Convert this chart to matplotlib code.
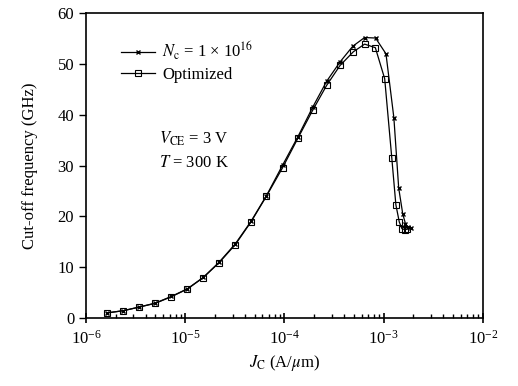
import matplotlib
matplotlib.use("Agg")
import matplotlib.pyplot as plt
from matplotlib.ticker import LogLocator, FixedLocator, NullFormatter

plt.rcParams['font.family'] = ['Liberation Serif', 'DejaVu Serif']
plt.rcParams['mathtext.fontset'] = 'stix'

# ------------------------------------------------------------------------------
# data

jc_nc = [1.61e-6, 2.38e-6, 3.45e-6, 5.0e-6, 7.25e-6, 1.05e-5, 1.52e-5, 2.2e-5,
         3.2e-5, 4.6e-5, 6.6e-5, 9.6e-5, 1.37e-4, 1.93e-4, 2.67e-4, 3.64e-4,
         4.9e-4, 6.44e-4, 8.3e-4, 1.057e-3, 1.27e-3, 1.42e-3, 1.56e-3, 1.66e-3,
         1.76e-3, 1.87e-3]
ft_nc = [1.0, 1.45, 2.17, 2.95, 4.25, 5.75, 8.0, 11.0,
         14.6, 19.0, 24.1, 30.1, 35.7, 41.5, 46.6, 50.4,
         53.5, 55.2, 55.1, 52.0, 39.4, 25.6, 20.5, 18.6,
         17.9, 17.7]

jc_opt = [1.61e-6, 2.38e-6, 3.45e-6, 5.0e-6, 7.25e-6, 1.05e-5, 1.52e-5, 2.2e-5,
          3.2e-5, 4.6e-5, 6.6e-5, 9.6e-5, 1.37e-4, 1.93e-4, 2.67e-4, 3.64e-4,
          4.96e-4, 6.44e-4, 8.26e-4, 1.026e-3, 1.21e-3, 1.33e-3, 1.44e-3, 1.53e-3,
          1.63e-3, 1.73e-3]
ft_opt = [1.0, 1.45, 2.17, 2.9, 4.2, 5.7, 7.95, 10.9,
          14.45, 18.9, 24.0, 29.6, 35.4, 40.9, 45.8, 49.7,
          52.4, 53.9, 53.2, 47.1, 31.5, 22.3, 18.9, 17.6,
          17.4, 17.5]

xticks = [1e-6, 1e-5, 1e-4, 1e-3, 1e-2]
yticks = [0, 10, 20, 30, 40, 50, 60]

# ------------------------------------------------------------------------------

fig = plt.figure(figsize=(5.18, 3.86), dpi=100)
ax = fig.add_axes([0.166, 0.176, 0.766, 0.790])

ax.plot(jc_nc, ft_nc, color='k', lw=0.9, marker='x', ms=3.5, mew=1.0,
        label=r'$N_{\rm c}$ = 1 × 10$^{16}$')
ax.plot(jc_opt, ft_opt, color='k', lw=0.9, marker='s', ms=3.8, mew=0.8,
        mfc='none', label='Optimized')

ax.set_xscale('log')
ax.set_xlim(1e-6, 1e-2)
ax.set_ylim(0, 60)
ax.xaxis.set_major_locator(FixedLocator(xticks))
ax.xaxis.set_minor_locator(LogLocator(base=10, subs=range(2, 10), numticks=20))
ax.xaxis.set_minor_formatter(NullFormatter())
ax.set_yticks(yticks)

ax.tick_params(axis='x', which='major', direction='inout', length=7, width=1.2,
               labelsize=12, pad=5)
ax.tick_params(axis='x', which='minor', direction='in', length=3, width=1.0)
ax.tick_params(axis='y', which='major', direction='out', length=5, width=1.0,
               labelsize=12)
for s in ax.spines.values():
  s.set_linewidth(1.2)

ax.set_xlabel(r'$J_{\rm C}$ (A/$\mu$m)', fontsize=12)
ax.set_ylabel('Cut-off frequency (GHz)', fontsize=12, labelpad=14)

ax.legend(loc='upper left', bbox_to_anchor=(0.072, 0.935), frameon=False,
          fontsize=12, handlelength=2.0, handletextpad=0.45, labelspacing=0.3,
          borderaxespad=0)

ax.text(0.185, 0.618, r'$V_{\rm CE}$ = 3 V' + '\n' + r'$T$ = 300 K',
        transform=ax.transAxes, fontsize=12, va='top', linespacing=1.55)

plt.savefig("out.png", dpi=100)
